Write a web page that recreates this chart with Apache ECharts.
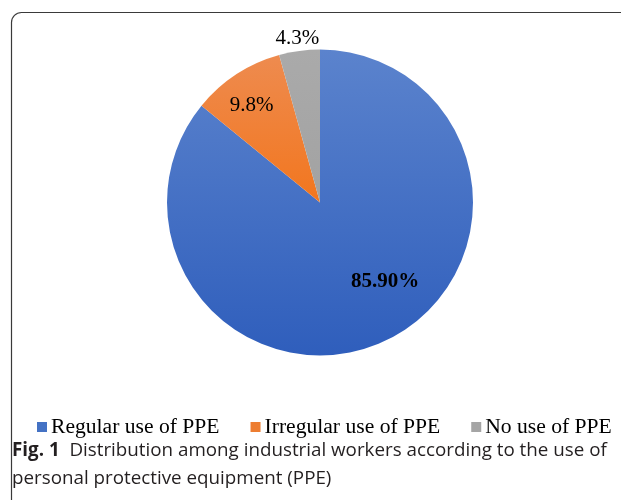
<!DOCTYPE html>
<html>
<head>
<meta charset="utf-8">
<script src="https://cdn.jsdelivr.net/npm/echarts@6/dist/echarts.min.js"></script>
<style>html,body{margin:0;padding:0;background:#fff;}#c{width:621px;height:500px;}</style>
</head>
<body>
<div id="c"></div>
<script>
const categories = ['Regular use of PPE', 'Irregular use of PPE', 'No use of PPE'];
const values = [85.9, 9.8, 4.3];
const valueLabels = ['85.90%', '9.8%', '4.3%'];
const captionBold = 'Fig. 1';
const captionText = 'Distribution among industrial workers according to the use of';
const captionLine2 = 'personal protective equipment (PPE)';

const solidColors = ['#4472C4', '#ED7D31', '#A5A5A5'];
const gradTop = ['#5B83CD', '#EE8B4F', '#AAAAAA'];
const gradBottom = ['#2F5EBC', '#F2761E', '#A2A2A2'];
const labelDx = [31, -25, -12];
const labelDy = [7, -30, -85];
const labelBold = ['bold', 'normal', 'normal'];

const serif = "'Liberation Serif', 'Times New Roman', serif";
const sans = "'Open Sans', 'Noto Sans', sans-serif";

const chart = echarts.init(document.getElementById('c'), null, {renderer: 'canvas'});
chart.setOption({
  animation: false,
  backgroundColor: '#fff',
  graphic: [{
    type: 'rect',
    shape: {x: 11.5, y: 12.5, width: 700, height: 600, r: 10},
    style: {fill: 'none', stroke: '#3a3a3a', lineWidth: 1.2},
    silent: true,
    z: 0
  }],
  title: {
    text: '{b|' + captionBold + '}  ' + captionText + '\n' + captionLine2,
    left: 7,
    top: 432,
    textStyle: {
      fontFamily: sans,
      fontSize: 18.8,
      fontWeight: 'normal',
      color: '#231f20',
      lineHeight: 28,
      rich: {
        b: {fontWeight: 'bold', fontSize: 18.8, fontFamily: sans, color: '#231f20', lineHeight: 28}
      }
    }
  },
  legend: {
    left: 37,
    top: 416,
    width: 584,
    padding: 0,
    itemWidth: 10,
    itemHeight: 10,
    itemGap: 31,
    icon: 'rect',
    textStyle: {fontFamily: serif, fontSize: 21.6, color: '#000', padding: [0, 0, 0, -1]},
    data: categories.map((n, i) => ({name: n, itemStyle: {color: solidColors[i]}}))
  },
  series: [{
    type: 'pie',
    center: [320, 202.5],
    radius: [0, 153],
    startAngle: 90,
    clockwise: true,
    silent: true,
    emphasis: {disabled: true},
    label: {
      show: true,
      position: 'inside',
      fontFamily: serif,
      fontSize: 21,
      color: '#000',
      formatter: p => valueLabels[p.dataIndex]
    },
    labelLine: {show: false},
    labelLayout: p => ({dx: labelDx[p.dataIndex], dy: labelDy[p.dataIndex]}),
    data: categories.map((n, i) => ({
      name: n,
      value: values[i],
      label: {fontWeight: labelBold[i]},
      itemStyle: {
        borderWidth: 0,
        color: new echarts.graphic.LinearGradient(0, 0, 0, 1, [
          {offset: 0, color: gradTop[i]},
          {offset: 1, color: gradBottom[i]}
        ])
      }
    }))
  }]
});
</script>
</body>
</html>
